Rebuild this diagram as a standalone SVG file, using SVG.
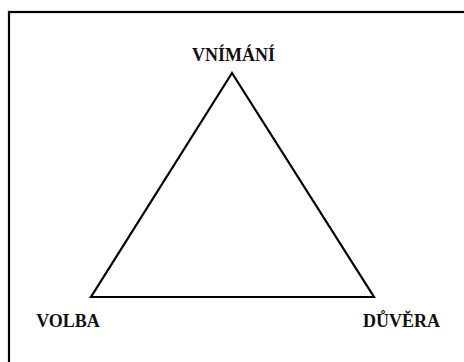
<svg xmlns="http://www.w3.org/2000/svg" width="464" height="362" viewBox="0 0 464 362">
<style>
.lbl{font-family:"Liberation Serif","Times New Roman",serif;font-weight:bold;font-size:18px;fill:#111}
.edge{fill:none;stroke:#000;stroke-width:2.2;stroke-linejoin:miter}
</style>
<rect x="0" y="0" width="464" height="362" fill="#fff"/>
<rect x="9" y="12" width="470" height="370" fill="none" stroke="#000" stroke-width="2.2"/>
<g id="connectors">
<polygon class="edge" points="232,73 91,297 374,297"/>
</g>
<g id="node-vnimani"><text class="lbl" x="233.5" y="61" text-anchor="middle">VNÍMÁNÍ</text></g>
<g id="node-volba"><text class="lbl" x="68" y="327" text-anchor="middle">VOLBA</text></g>
<g id="node-duvera"><text class="lbl" x="401.5" y="327" text-anchor="middle">DŮVĚRA</text></g>
</svg>
